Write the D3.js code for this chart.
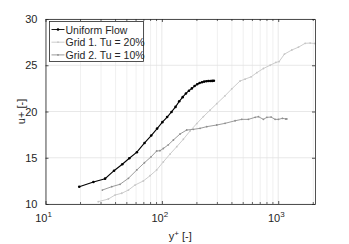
<!DOCTYPE html>
<html>
<head>
<meta charset="utf-8">
<script src="https://cdn.jsdelivr.net/npm/d3@7"></script>
<style>
  body { margin: 0; background: #fff; }
  text { font-family: "Liberation Sans", Arial, sans-serif; }
</style>
</head>
<body>
<div id="chart"></div>
<script>
// y+ / u+ values
const uniformYp = [19.5, 25.8, 32.5, 38.8, 45.7, 52.5, 61, 71, 81, 91, 101, 111, 121, 131, 141, 151, 161, 171, 181, 191, 201, 211, 221, 231, 241, 251, 261, 271, 280];
const uniformUp = [11.87, 12.38, 12.74, 13.6, 14.3, 14.95, 15.6, 16.6, 17.4, 18.15, 18.85, 19.4, 19.95, 20.5, 21.1, 21.55, 21.95, 22.25, 22.5, 22.75, 22.95, 23.08, 23.17, 23.23, 23.27, 23.29, 23.3, 23.31, 23.32];

const grid1Yp = [28.4, 34.7, 39.6, 45.2, 51.6, 58.8, 69.3, 79.2, 90.2, 102.9, 117.6, 134.3, 153, 174.8, 199.6, 227.5, 259.7, 296.4, 349, 399, 470, 519, 585, 655, 746, 852, 953, 1018, 1130, 1309, 1491, 1703, 1880, 2065];
const grid1Up = [10.25, 10.54, 10.97, 11.16, 11.51, 12.05, 12.49, 13.06, 13.68, 14.55, 15.4, 16.2, 17.0, 17.9, 18.7, 19.45, 20.15, 20.85, 21.7, 22.45, 23.3, 23.5, 23.75, 24.2, 24.65, 25.0, 25.3, 25.4, 26.2, 26.65, 26.95, 27.37, 27.4, 27.35];

const grid2Yp = [30.8, 37.1, 43.7, 51.6, 60.9, 70.8, 80.8, 90.2, 96.3, 102.9, 113.6, 125.6, 143.3, 163.5, 186.6, 212.9, 242.9, 296.4, 349, 426, 486, 554, 633, 676, 746, 798, 869, 940, 1004, 1087, 1162, 1186];
const grid2Up = [11.51, 11.87, 12.13, 12.78, 13.68, 14.46, 15.1, 15.73, 15.76, 16.0, 16.4, 16.92, 17.57, 18.0, 18.07, 18.18, 18.36, 18.54, 18.72, 19.0, 19.15, 19.15, 19.37, 19.44, 19.15, 19.37, 19.4, 19.15, 19.15, 19.26, 19.19, 19.2];

const seriesNames = ["Uniform Flow", "Grid 1. Tu = 20%", "Grid 2. Tu = 10%"];
const xTicks = [10, 100, 1000];
const yTicks = [10, 15, 20, 25, 30];

let config = { width: 349, height: 244, top: 19, left: 45.5, bottom: 40, right: 34 };

const svg = d3.select("#chart").append("svg")
  .attr("width", config.width)
  .attr("height", config.height);

const x = d3.scaleLog().domain([10, 2070]).range([config.left, config.width - config.right]);
const y = d3.scaleLinear().domain([10, 30]).range([config.height - config.bottom, config.top]);

const x0 = x.range()[0], x1 = x.range()[1];
const y0 = y.range()[0], y1 = y.range()[1];

// minor x grid values (log)
const minorX = [];
for (let d of [10, 100, 1000]) {
  for (let k = 2; k <= 9; k++) if (d * k <= 2070) minorX.push(d * k);
}

// grid
const grid = svg.append("g");
grid.selectAll(".mx").data(minorX).enter().append("line")
  .attr("x1", d => x(d)).attr("x2", d => x(d))
  .attr("y1", y0).attr("y2", y1)
  .attr("stroke", "#ececec").attr("stroke-width", 0.8);
grid.selectAll(".gx").data(xTicks).enter().append("line")
  .attr("x1", d => x(d)).attr("x2", d => x(d))
  .attr("y1", y0).attr("y2", y1)
  .attr("stroke", "#e2e2e2").attr("stroke-width", 0.8);
grid.selectAll(".gy").data(yTicks).enter().append("line")
  .attr("x1", x0).attr("x2", x1)
  .attr("y1", d => y(d)).attr("y2", d => y(d))
  .attr("stroke", "#e2e2e2").attr("stroke-width", 0.8);

// data lines
const line = d3.line().x(d => x(d[0])).y(d => y(d[1]));
const series = [
  { pts: d3.zip(grid1Yp, grid1Up), color: "#c6c6c6", r: 0.9, w: 0.9 },
  { pts: d3.zip(grid2Yp, grid2Up), color: "#8f8f8f", r: 0.9, w: 0.9 },
  { pts: d3.zip(uniformYp, uniformUp), color: "#000000", r: 1.3, w: 1.1 }
];
series.forEach(s => {
  svg.append("path").datum(s.pts)
    .attr("d", line)
    .attr("fill", "none")
    .attr("stroke", s.color)
    .attr("stroke-width", s.w);
  svg.append("g").selectAll("circle").data(s.pts).enter().append("circle")
    .attr("cx", d => x(d[0])).attr("cy", d => y(d[1]))
    .attr("r", s.r).attr("fill", s.color);
});

// axes (MATLAB style box, inward ticks)
const axisColor = "#262626";
const bottomAxis = svg.append("g").attr("transform", `translate(0,${y0})`)
  .call(d3.axisBottom(x).tickValues(xTicks).tickSizeInner(-3).tickSizeOuter(0).tickFormat(""));
const topAxis = svg.append("g").attr("transform", `translate(0,${y1})`)
  .call(d3.axisTop(x).tickValues(xTicks).tickSizeInner(-3).tickSizeOuter(0).tickFormat(""));
const leftAxis = svg.append("g").attr("transform", `translate(${x0},0)`)
  .call(d3.axisLeft(y).tickValues(yTicks).tickSizeInner(-3).tickSizeOuter(0).tickPadding(8)
    .tickFormat(d3.format("d")));
const rightAxis = svg.append("g").attr("transform", `translate(${x1},0)`)
  .call(d3.axisRight(y).tickValues(yTicks).tickSizeInner(-3).tickSizeOuter(0).tickFormat(""));

[bottomAxis, topAxis, leftAxis, rightAxis].forEach(a => {
  a.select(".domain").attr("stroke", axisColor).attr("stroke-width", 0.8);
  a.selectAll(".tick line").attr("stroke", axisColor).attr("stroke-width", 0.8);
});
leftAxis.selectAll(".tick text")
  .attr("fill", axisColor)
  .style("font-size", "11px")
  .style("font-family", "Liberation Sans, Arial, sans-serif");

// minor ticks on the log axes
svg.append("g").selectAll("line").data(minorX).enter().append("line")
  .attr("x1", d => x(d)).attr("x2", d => x(d))
  .attr("y1", y0).attr("y2", y0 - 2)
  .attr("stroke", axisColor).attr("stroke-width", 0.7);
svg.append("g").selectAll("line").data(minorX).enter().append("line")
  .attr("x1", d => x(d)).attr("x2", d => x(d))
  .attr("y1", y1).attr("y2", y1 + 2)
  .attr("stroke", axisColor).attr("stroke-width", 0.7);

// x tick labels 10^n
const xl = svg.append("g").selectAll("text").data(xTicks).enter().append("text")
  .attr("x", d => x(d) - 2).attr("y", y0 + 18)
  .attr("text-anchor", "middle")
  .attr("fill", axisColor)
  .style("font-size", "11px");
xl.append("tspan").text("10");
xl.append("tspan").attr("dy", -5).style("font-size", "8px").text(d => Math.round(Math.log10(d)));

// axis labels
const xlab = svg.append("text")
  .attr("x", (x0 + x1) / 2).attr("y", config.height - 4)
  .attr("text-anchor", "middle").attr("fill", axisColor)
  .style("font-size", "11px");
xlab.append("tspan").text("y");
xlab.append("tspan").attr("dy", -4).style("font-size", "8px").text("+");
xlab.append("tspan").attr("dy", 4).text(" [-]");

svg.append("text")
  .attr("transform", `translate(25,${(y0 + y1) / 2}) rotate(-90)`)
  .attr("text-anchor", "middle").attr("fill", axisColor)
  .style("font-size", "11px")
  .text("u+ [-]");

// legend
const legend = svg.append("g").attr("transform", "translate(49.5,21.5)");
legend.append("rect")
  .attr("width", 94).attr("height", 40)
  .attr("fill", "#fff").attr("stroke", axisColor).attr("stroke-width", 0.8);
const legColors = ["#000000", "#c6c6c6", "#8f8f8f"];
const legRows = legend.selectAll(".row").data(seriesNames).enter().append("g")
  .attr("transform", (d, i) => `translate(0,${8 + i * 12.7})`);
legRows.append("line")
  .attr("x1", 2).attr("x2", 15)
  .attr("stroke", (d, i) => legColors[i]).attr("stroke-width", 0.9);
legRows.append("circle")
  .attr("cx", 8.5).attr("r", (d, i) => i === 0 ? 1.3 : 0.9)
  .attr("fill", (d, i) => legColors[i]);
legRows.append("text")
  .attr("x", 16).attr("y", 4)
  .attr("fill", axisColor)
  .style("font-size", "10.5px")
  .text(d => d);
</script>
</body>
</html>
